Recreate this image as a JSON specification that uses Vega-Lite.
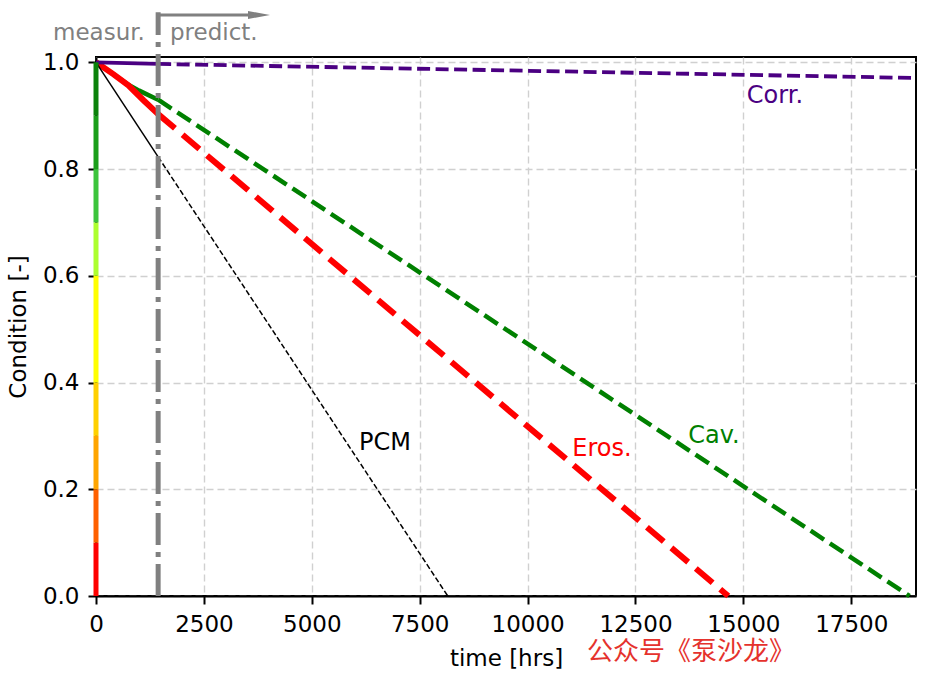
{
  "$schema": "https://vega.github.io/schema/vega-lite/v6.json",
  "autosize": {"type": "none"},
  "padding": {"left": 96, "top": 57, "right": 12, "bottom": 82},
  "width": 820,
  "height": 539,
  "background": "white",
  "config": {
    "font": "DejaVu Sans",
    "view": {"stroke": "black", "strokeWidth": 2},
    "axis": {
      "labelFont": "DejaVu Sans",
      "labelFontSize": 23,
      "labelColor": "black",
      "titleFont": "DejaVu Sans",
      "titleFontSize": 23,
      "titleFontWeight": "normal",
      "titleColor": "black",
      "domainColor": "black",
      "domainWidth": 2,
      "tickColor": "black",
      "tickWidth": 2,
      "tickSize": 8,
      "labelPadding": 9,
      "gridColor": "#d0d0d0",
      "gridDash": [7, 4],
      "gridWidth": 1.4
    }
  },
  "datasets": {
    "lines": [
      {"s": "Corr.", "p": "m", "t": 0, "c": 1.0},
      {"s": "Corr.", "p": "m", "t": 1440, "c": 0.997},
      {"s": "Corr.", "p": "p", "t": 1440, "c": 0.997},
      {"s": "Corr.", "p": "p", "t": 19000, "c": 0.9707},
      {"s": "Cav.", "p": "m", "t": 0, "c": 1.0},
      {"s": "Cav.", "p": "m", "t": 400, "c": 0.978},
      {"s": "Cav.", "p": "m", "t": 750, "c": 0.958},
      {"s": "Cav.", "p": "m", "t": 1000, "c": 0.947},
      {"s": "Cav.", "p": "m", "t": 1440, "c": 0.93},
      {"s": "Cav.", "p": "p", "t": 1440, "c": 0.93},
      {"s": "Cav.", "p": "p", "t": 18850, "c": 0.0},
      {"s": "Eros.", "p": "m", "t": 0, "c": 1.0},
      {"s": "Eros.", "p": "m", "t": 400, "c": 0.978},
      {"s": "Eros.", "p": "m", "t": 750, "c": 0.957},
      {"s": "Eros.", "p": "m", "t": 1100, "c": 0.929},
      {"s": "Eros.", "p": "m", "t": 1440, "c": 0.903},
      {"s": "Eros.", "p": "p", "t": 1440, "c": 0.903},
      {"s": "Eros.", "p": "p", "t": 14650, "c": 0.0},
      {"s": "PCM", "p": "m", "t": 0, "c": 1.0},
      {"s": "PCM", "p": "m", "t": 1440, "c": 0.823},
      {"s": "PCM", "p": "p", "t": 1440, "c": 0.823},
      {"s": "PCM", "p": "p", "t": 8150, "c": 0.0}
    ],
    "bands": [
      {"band": "b0", "t": 0, "c": 0.0, "c2": 0.1},
      {"band": "b1", "t": 0, "c": 0.1, "c2": 0.2},
      {"band": "b2", "t": 0, "c": 0.2, "c2": 0.3},
      {"band": "b3", "t": 0, "c": 0.3, "c2": 0.4},
      {"band": "b4", "t": 0, "c": 0.4, "c2": 0.6},
      {"band": "b6", "t": 0, "c": 0.6, "c2": 0.7},
      {"band": "b7", "t": 0, "c": 0.7, "c2": 0.8},
      {"band": "b8", "t": 0, "c": 0.8, "c2": 0.9},
      {"band": "b9", "t": 0, "c": 0.9, "c2": 1.0}
    ],
    "vline": [{"t": 1440, "c": 0.0, "c2": 1.094}],
    "arrow": [{"t": 1440, "t2": 3522, "c": 1.0887}],
    "arrowhead": [{"t": 3777, "c": 1.0887}],
    "phase": [
      {"label": "measur.", "t": -996, "c": 1.055},
      {"label": "predict.", "t": 1715, "c": 1.055}
    ],
    "labels": [
      {"s": "PCM", "label": "PCM", "t": 6696, "c": 0.2867},
      {"s": "Eros.", "label": "Eros.", "t": 11724, "c": 0.2755},
      {"s": "Cav.", "label": "Cav.", "t": 14319, "c": 0.2998},
      {"s": "Corr.", "label": "Corr.", "t": 15732, "c": 0.9369}
    ],
    "mark": [{"label": "公众号《泵沙龙》", "t": 11376, "c": -0.1049}]
  },
  "encoding": {
    "x": {
      "field": "t",
      "type": "quantitative",
      "scale": {"domain": [0, 19000], "nice": false, "zero": false},
      "axis": {
        "title": "time [hrs]",
        "values": [0, 2500, 5000, 7500, 10000, 12500, 15000, 17500],
        "format": "d",
        "titleY": 62,
        "titleBaseline": "middle",
        "labelFlush": false
      }
    },
    "y": {
      "field": "c",
      "type": "quantitative",
      "scale": {"domain": [0, 1.01], "nice": false, "zero": false},
      "axis": {
        "title": "Condition [-]",
        "values": [0, 0.2, 0.4, 0.6, 0.8, 1.0],
        "format": ".1f",
        "titleX": -78,
        "titleBaseline": "middle",
        "labelFlush": false
      }
    }
  },
  "layer": [
    {
      "data": {"name": "lines"},
      "transform": [{"filter": "datum.s === 'Cav.' && datum.p === 'm'"}],
      "mark": {"type": "line", "color": "#008000", "strokeWidth": 4.5}
    },
    {
      "data": {"name": "lines"},
      "transform": [{"filter": "datum.s === 'Cav.' && datum.p === 'p'"}],
      "mark": {"type": "line", "color": "#008000", "strokeWidth": 4.5, "strokeDash": [16, 7]}
    },
    {
      "data": {"name": "lines"},
      "transform": [{"filter": "datum.s === 'Eros.' && datum.p === 'm'"}],
      "mark": {"type": "line", "color": "#ff0000", "strokeWidth": 6}
    },
    {
      "data": {"name": "lines"},
      "transform": [{"filter": "datum.s === 'Eros.' && datum.p === 'p'"}],
      "mark": {"type": "line", "color": "#ff0000", "strokeWidth": 6, "strokeDash": [22, 10]}
    },
    {
      "data": {"name": "lines"},
      "transform": [{"filter": "datum.s === 'PCM' && datum.p === 'm'"}],
      "mark": {"type": "line", "color": "black", "strokeWidth": 1.5}
    },
    {
      "data": {"name": "lines"},
      "transform": [{"filter": "datum.s === 'PCM' && datum.p === 'p'"}],
      "mark": {"type": "line", "color": "black", "strokeWidth": 1.5, "strokeDash": [5.5, 2.5]}
    },
    {
      "data": {"name": "lines"},
      "transform": [{"filter": "datum.s === 'Corr.' && datum.p === 'm'"}],
      "mark": {"type": "line", "color": "#4b0082", "strokeWidth": 3.8}
    },
    {
      "data": {"name": "lines"},
      "transform": [{"filter": "datum.s === 'Corr.' && datum.p === 'p'"}],
      "mark": {"type": "line", "color": "#4b0082", "strokeWidth": 3.8, "strokeDash": [13, 5.5]}
    },
    {
      "data": {"name": "vline"},
      "mark": {"type": "rule", "color": "#808080", "strokeWidth": 5, "strokeDash": [32, 7, 5, 7]},
      "encoding": {"y2": {"field": "c2"}}
    },
    {
      "data": {"name": "arrow"},
      "mark": {"type": "rule", "color": "#808080", "strokeWidth": 3},
      "encoding": {"x2": {"field": "t2"}}
    },
    {
      "data": {"name": "arrowhead"},
      "mark": {"type": "point", "shape": "M-1,-0.36L1,0L-1,0.36Z", "size": 484, "filled": true, "color": "#808080", "opacity": 1}
    },
    {
      "data": {"name": "bands"},
      "mark": {"type": "rule", "strokeWidth": 5, "strokeCap": "butt"},
      "encoding": {
        "y2": {"field": "c2"},
        "color": {
          "field": "band",
          "type": "nominal",
          "legend": null,
          "scale": {
            "domain": ["b0", "b1", "b2", "b3", "b4", "b6", "b7", "b8", "b9"],
            "range": ["#ff0000", "#ff6000", "#ffa500", "#ffd000", "#ffff00", "#adff2f", "#3cc43c", "#1a9e1a", "#0a820a"]
          }
        }
      }
    },
    {
      "data": {"name": "phase"},
      "mark": {"type": "text", "align": "left", "baseline": "middle", "fontSize": 23, "font": "DejaVu Sans", "color": "#808080"},
      "encoding": {"text": {"field": "label"}}
    },
    {
      "data": {"name": "labels"},
      "mark": {"type": "text", "align": "center", "baseline": "middle", "fontSize": 24, "font": "DejaVu Sans"},
      "encoding": {
        "text": {"field": "label"},
        "color": {
          "field": "s",
          "type": "nominal",
          "legend": null,
          "scale": {"domain": ["PCM", "Eros.", "Cav.", "Corr."], "range": ["#000000", "#ff0000", "#008000", "#4b0082"]}
        }
      }
    },
    {
      "data": {"name": "mark"},
      "mark": {"type": "text", "align": "left", "baseline": "middle", "fontSize": 26, "font": "Noto Sans CJK SC", "color": "#e5322d"},
      "encoding": {"text": {"field": "label"}}
    }
  ],
  "resolve": {"scale": {"color": "independent"}}
}
